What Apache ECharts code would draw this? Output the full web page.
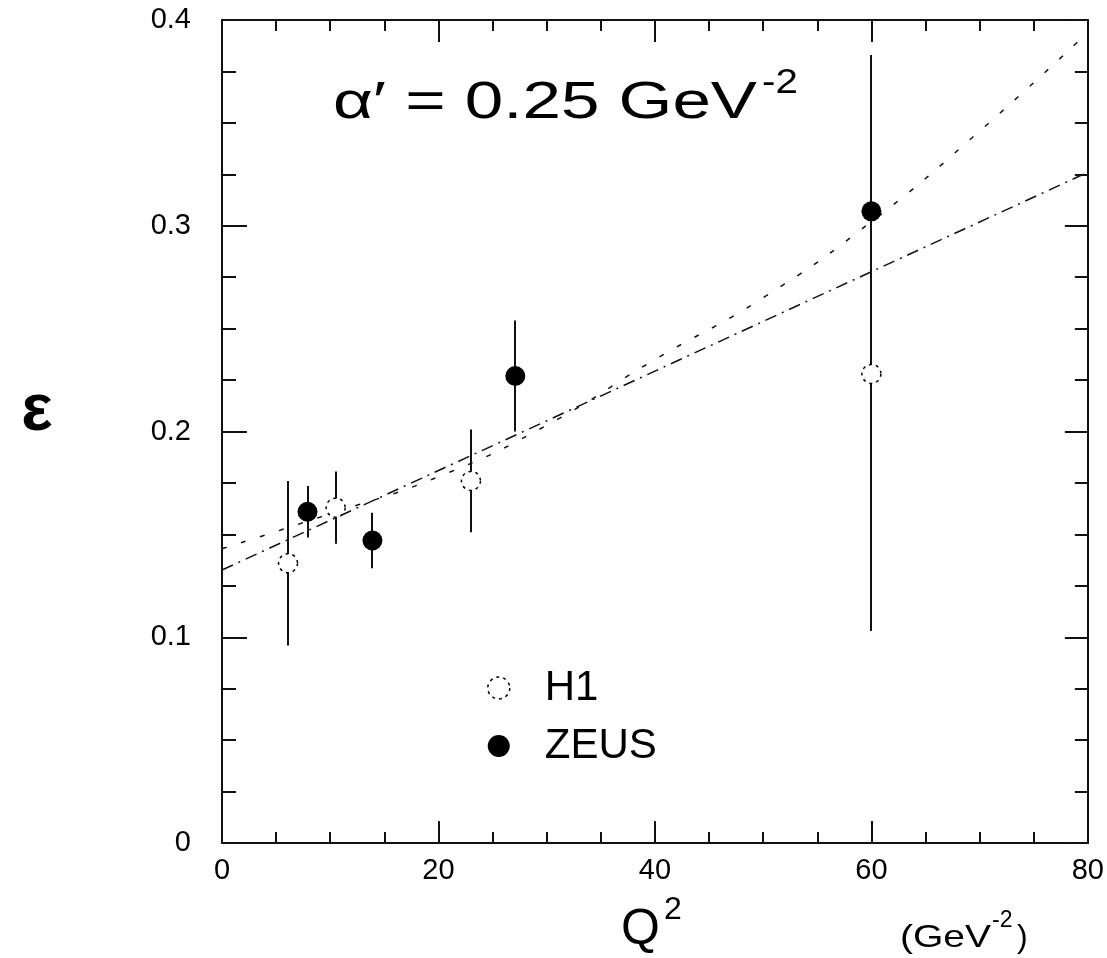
<!DOCTYPE html>
<html>
<head>
<meta charset="utf-8">
<script src="https://cdn.jsdelivr.net/npm/echarts@6/dist/echarts.min.js"></script>
<style>
html,body{margin:0;padding:0;background:#fff;}
#chart{width:1107px;height:958px;}
</style>
</head>
<body>
<div id="chart"></div>
<script>
// ---- data ----
const h1Q2   = [6.1, 10.5, 23.0, 60.0];
const h1Eps  = [0.136, 0.163, 0.176, 0.228];
const h1Err  = [0.040, 0.0175, 0.025, 0.125];

const zeusQ2  = [7.9, 13.9, 27.1, 60.0];
const zeusEps = [0.161, 0.147, 0.227, 0.307];
const zeusErr = [0.0125, 0.0135, 0.027, 0.076];

// straight fit line (dash-dot)
const fitQ2  = [0, 80];
const fitEps = [0.1327, 0.326];

// curved prediction (sparse dashes)
const curveQ2  = [0, 10, 20, 30, 40, 50, 60, 70, 80];
const curveEps = [0.143, 0.160, 0.178, 0.203, 0.235, 0.265, 0.302, 0.346, 0.394];

const xTickValues = [0, 20, 40, 60, 80];
const xTickLabels = ['0', '20', '40', '60', '80'];
const yTickValues = [0, 0.1, 0.2, 0.3, 0.4];
const yTickLabels = ['0', '0.1', '0.2', '0.3', '0.4'];

// ---- build ----
const zip = (a, b) => a.map((v, i) => [v, b[i]]);
const errData = (xs, ys, es) => xs.map((x, i) => [x, ys[i] - es[i], ys[i] + es[i]]);

const FONT = '"Liberation Sans", Arial, Helvetica, sans-serif';
const INK = '#111';

function labelFor(values, labels) {
  return v => {
    for (let i = 0; i < values.length; i++) {
      if (Math.abs(values[i] - v) < 1e-9) return labels[i];
    }
    return '';
  };
}

function errRender(params, api) {
  const x = api.value(0), lo = api.value(1), hi = api.value(2);
  const p1 = api.coord([x, lo]);
  const p2 = api.coord([x, hi]);
  const px = Math.round(p1[0]);
  return {
    type: 'line',
    shape: { x1: px, y1: p1[1], x2: px, y2: p2[1] },
    style: { stroke: INK, lineWidth: 2 }
  };
}

const axisLine = { show: true, onZero: false, lineStyle: { color: INK, width: 2 } };

const chart = echarts.init(document.getElementById('chart'), null, { renderer: 'canvas' });

chart.setOption({
  animation: false,
  backgroundColor: '#fff',
  grid: { left: 222, right: 19, top: 20, bottom: 115, containLabel: false },
  xAxis: [
    {
      type: 'value', min: 0, max: 80, interval: 20, position: 'bottom',
      axisLine: axisLine,
      axisTick: { show: true, inside: true, length: 22, lineStyle: { color: INK, width: 2 } },
      minorTick: { show: true, splitNumber: 4, length: 11, lineStyle: { color: INK, width: 2 } },
      splitLine: { show: false },
      axisLabel: { show: true, margin: 13, fontSize: 29, color: '#000', fontFamily: FONT,
                   formatter: labelFor(xTickValues, xTickLabels) }
    },
    {
      type: 'value', min: 0, max: 80, interval: 20, position: 'top',
      axisLine: axisLine,
      axisTick: { show: true, inside: true, length: 22, lineStyle: { color: INK, width: 2 } },
      minorTick: { show: true, splitNumber: 4, length: 11, lineStyle: { color: INK, width: 2 } },
      splitLine: { show: false },
      axisLabel: { show: false }
    }
  ],
  yAxis: [
    {
      type: 'value', min: 0, max: 0.4, interval: 0.1, position: 'left',
      axisLine: axisLine,
      axisTick: { show: true, inside: true, length: 25, lineStyle: { color: INK, width: 2 } },
      minorTick: { show: true, splitNumber: 4, length: 14, lineStyle: { color: INK, width: 2 } },
      splitLine: { show: false },
      axisLabel: { show: true, margin: 31, fontSize: 29, color: '#000', fontFamily: FONT,
                   formatter: labelFor(yTickValues, yTickLabels) }
    },
    {
      type: 'value', min: 0, max: 0.4, interval: 0.1, position: 'right',
      axisLine: axisLine,
      axisTick: { show: true, inside: true, length: 23, lineStyle: { color: INK, width: 2 } },
      minorTick: { show: true, splitNumber: 4, length: 13, lineStyle: { color: INK, width: 2 } },
      splitLine: { show: false },
      axisLabel: { show: false }
    }
  ],
  legend: {
    show: true,
    orient: 'vertical',
    left: 482, top: 662,
    itemWidth: 22, itemHeight: 22, itemGap: 16,
    selectedMode: false,
    textStyle: { fontSize: 42, lineHeight: 42, color: '#000', fontFamily: FONT, padding: [0, 0, 0, 30] },
    data: [
      { name: 'H1', icon: 'circle',
        itemStyle: { color: '#fff', borderColor: '#000', borderWidth: 1.5, borderType: [3, 4] } },
      { name: 'ZEUS', icon: 'circle',
        itemStyle: { color: '#000', borderColor: '#000', borderWidth: 0 } }
    ]
  },
  series: [
    {
      name: 'fit', type: 'line', xAxisIndex: 0, yAxisIndex: 0,
      data: zip(fitQ2, fitEps), showSymbol: false, symbol: 'none', z: 1,
      lineStyle: { color: INK, width: 1.5, type: [12, 6, 2, 6] }
    },
    {
      name: 'curve', type: 'line', xAxisIndex: 0, yAxisIndex: 0, smooth: true,
      data: zip(curveQ2, curveEps), showSymbol: false, symbol: 'none', z: 1,
      lineStyle: { color: INK, width: 1.5, type: [5, 15] }
    },
    {
      name: 'H1err', type: 'custom', xAxisIndex: 0, yAxisIndex: 0, z: 2,
      renderItem: errRender, data: errData(h1Q2, h1Eps, h1Err), encode: { x: 0, y: [1, 2] }
    },
    {
      name: 'ZEUSerr', type: 'custom', xAxisIndex: 0, yAxisIndex: 0, z: 2,
      renderItem: errRender, data: errData(zeusQ2, zeusEps, zeusErr), encode: { x: 0, y: [1, 2] }
    },
    {
      name: 'H1', type: 'scatter', xAxisIndex: 0, yAxisIndex: 0, z: 3,
      data: zip(h1Q2, h1Eps), symbol: 'circle', symbolSize: 19,
      itemStyle: { color: '#fff', borderColor: '#000', borderWidth: 1.5, borderType: [3, 4], opacity: 1 }
    },
    {
      name: 'ZEUS', type: 'scatter', xAxisIndex: 0, yAxisIndex: 0, z: 3,
      data: zip(zeusQ2, zeusEps), symbol: 'circle', symbolSize: 20,
      itemStyle: { color: '#000', borderWidth: 0, opacity: 1 }
    }
  ],
  graphic: [
    { type: 'text', x: 333, y: 104, scaleX: 1.33, z: 10,
      style: { text: 'α′ = 0.25 GeV', font: '52px ' + FONT, fill: '#000',
               textAlign: 'left', textVerticalAlign: 'middle' } },
    { type: 'text', x: 762, y: 83, scaleX: 1.15, z: 10,
      style: { text: '-2', font: '35px ' + FONT, fill: '#000',
               textAlign: 'left', textVerticalAlign: 'middle' } },
    { type: 'text', x: 37, y: 412, z: 10,
      style: { text: 'ε', font: 'bold 66px ' + FONT, fill: '#000',
               textAlign: 'center', textVerticalAlign: 'middle' } },
    { type: 'text', x: 621, y: 930, z: 10,
      style: { text: 'Q', font: '50px ' + FONT, fill: '#000',
               textAlign: 'left', textVerticalAlign: 'middle' } },
    { type: 'text', x: 664, y: 910, z: 10,
      style: { text: '2', font: '32px ' + FONT, fill: '#000',
               textAlign: 'left', textVerticalAlign: 'middle' } },
    { type: 'text', x: 900, y: 938, scaleX: 1.22, z: 10,
      style: { text: '(GeV', font: '32px ' + FONT, fill: '#000',
               textAlign: 'left', textVerticalAlign: 'middle' } },
    { type: 'text', x: 992, y: 921, scaleX: 1.0, z: 10,
      style: { text: '-2', font: '23px ' + FONT, fill: '#000',
               textAlign: 'left', textVerticalAlign: 'middle' } },
    { type: 'text', x: 1017, y: 938, scaleX: 1.0, z: 10,
      style: { text: ')', font: '32px ' + FONT, fill: '#000',
               textAlign: 'left', textVerticalAlign: 'middle' } }
  ]
});
</script>
</body>
</html>
